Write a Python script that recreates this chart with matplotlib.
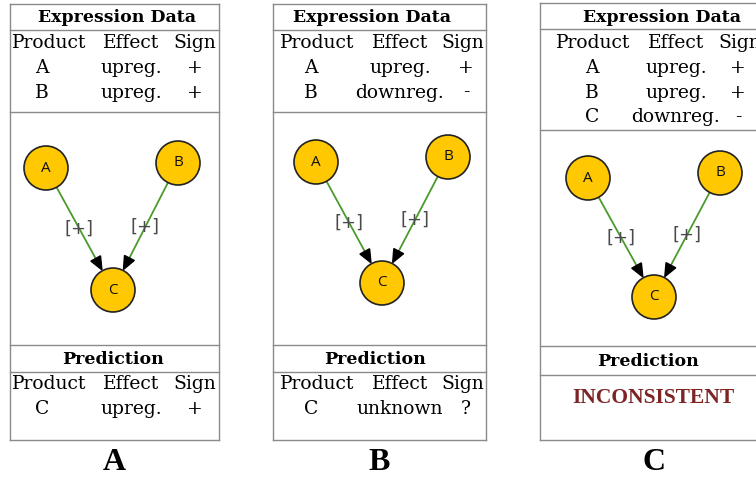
import matplotlib
matplotlib.use("Agg")
import matplotlib.pyplot as plt
from matplotlib.patches import Circle, Polygon
import numpy as np

# ---- data ----
panel_labels = ["A", "B", "C"]
expr_products = [["A", "B"], ["A", "B"], ["A", "B", "C"]]
expr_effects = [["upreg.", "upreg."], ["upreg.", "downreg."], ["upreg.", "upreg.", "downreg."]]
expr_signs = [["+", "+"], ["+", "-"], ["+", "+", "-"]]
pred_products = [["C"], ["C"], []]
pred_effects = [["upreg."], ["unknown"], []]
pred_signs = [["+"], ["?"], []]
pred_status = ["", "", "INCONSISTENT"]
node_names = ["A", "B", "C"]
edges = [("A", "C", "+"), ("B", "C", "+")]
col_headers = ["Product", "Effect", "Sign"]

# ---- layout (pixel coordinates) ----
W, H = 756, 480
fig = plt.figure(figsize=(W / 100, H / 100), dpi=100)
ax = fig.add_axes([0, 0, 1, 1])
ax.set_xlim(0, W)
ax.set_ylim(H, 0)
ax.axis("off")

lefts = [10, 273, 540]
rights = [219, 486, 770]
tops = [4, 4, 3]
head_bot = [30, 30, 29]
sep_y = [112, 112, 130]
pred_top = [345, 345, 346]
pred_bot = [372, 372, 375]
bottoms = [440, 440, 440]
expr_title_x = [117, 372, 662]
pred_title_x = [113, 375, 648]
col_x = [[49, 131, 195], [317, 400, 463], [593, 676, 740]]
row_col_x = [[42, 131, 195], [311, 400, 466], [592, 676, 738]]
nodes_pos = [
    {"A": (46, 168), "B": (178, 163), "C": (113, 290)},
    {"A": (316, 162), "B": (448, 157), "C": (382, 283)},
    {"A": (588, 178), "B": (720, 173), "C": (654, 297)},
]
R = 22
border = "#8a8a8a"
serif = "DejaVu Serif"
fs = 13.5
fsb = 12.5

for p in range(3):
    L, Rt = lefts[p], rights[p]
    for y in [tops[p], head_bot[p], sep_y[p], pred_top[p], pred_bot[p], bottoms[p]]:
        ax.plot([L, Rt], [y, y], color=border, lw=1.0)
    ax.plot([L, L], [tops[p], bottoms[p]], color=border, lw=1.0)
    ax.plot([Rt, Rt], [tops[p], bottoms[p]], color=border, lw=1.0)

    ax.text(expr_title_x[p], (tops[p] + head_bot[p]) / 2 + 1, "Expression Data",
            ha="center", va="center", fontsize=fsb, fontweight="bold", family=serif)
    for j, h in enumerate(col_headers):
        ax.text(col_x[p][j], 43, h, ha="center", va="center", fontsize=fs, family=serif)
    for i in range(len(expr_products[p])):
        y = 68 + 24.5 * i
        for j, v in enumerate([expr_products[p][i], expr_effects[p][i], expr_signs[p][i]]):
            ax.text(row_col_x[p][j], y, v, ha="center", va="center", fontsize=fs, family=serif)

    ax.text(pred_title_x[p], (pred_top[p] + pred_bot[p]) / 2 + 1, "Prediction",
            ha="center", va="center", fontsize=fsb, fontweight="bold", family=serif)
    if pred_products[p]:
        for j, h in enumerate(col_headers):
            ax.text(col_x[p][j], 384, h, ha="center", va="center", fontsize=fs, family=serif)
        for i in range(len(pred_products[p])):
            y = 409 + 24.5 * i
            for j, v in enumerate([pred_products[p][i], pred_effects[p][i], pred_signs[p][i]]):
                ax.text(row_col_x[p][j], y, v, ha="center", va="center", fontsize=fs, family=serif)
    if pred_status[p]:
        ax.text(653, 398, pred_status[p], ha="center", va="center", fontsize=15.5,
                fontweight="bold", family="Liberation Serif", color="#7d2525")

    # graph
    pos = nodes_pos[p]
    for (s, t, sign) in edges:
        x0, y0 = pos[s]
        x1, y1 = pos[t]
        d = np.array([x1 - x0, y1 - y0], float)
        u = d / np.linalg.norm(d)
        nvec = np.array([-u[1], u[0]])
        start = np.array([x0, y0]) + u * R
        tip = np.array([x1, y1]) - u * (R + 1)
        hl, hw = 13, 5.5
        base = tip - u * hl
        ax.plot([start[0], base[0]], [start[1], base[1]], color="#4b9a2e", lw=1.3, zorder=2)
        tri = Polygon([tip, base + nvec * hw, base - nvec * hw], closed=True,
                      facecolor="black", edgecolor="black", zorder=3)
        ax.add_patch(tri)
        mx, my = (x0 + x1) / 2, (y0 + y1) / 2
        ax.text(mx, my, "[" + sign + "]", ha="center", va="center", fontsize=13,
                color="#4a4a4a", family="DejaVu Sans", zorder=4)
    for name in node_names:
        x, y = pos[name]
        ax.add_patch(Circle((x, y), R, facecolor="#ffc800", edgecolor="#222222", lw=1.2, zorder=5))
        ax.text(x, y, name, ha="center", va="center", fontsize=11, family="Open Sans",
                color="#111111", zorder=6)

    ax.text((L + min(Rt, W)) / 2 if p < 2 else 654, 463, panel_labels[p], ha="center", va="center",
            fontsize=23, fontweight="bold", family="Liberation Serif")

fig.savefig("out.png", dpi=100)
